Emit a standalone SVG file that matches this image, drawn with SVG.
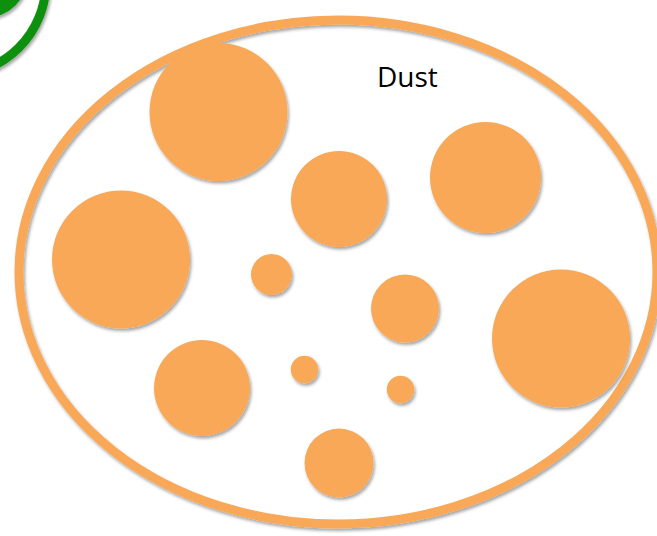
<svg xmlns="http://www.w3.org/2000/svg" width="657" height="536" viewBox="0 0 657 536">
  <defs>
    <filter id="sh" x="-20%" y="-20%" width="140%" height="140%">
      <feDropShadow dx="1.5" dy="2.5" stdDeviation="1.8" flood-color="#000" flood-opacity="0.35"/>
    </filter>
  </defs>
  <style>
    .p { fill: #f8a857; filter: url(#sh); }
    .ring { fill: none; stroke: #f8a857; stroke-width: 9; filter: url(#sh); }
    .g { fill: #0d900d; filter: url(#sh); }
    .gr { fill: none; stroke: #0d900d; stroke-width: 9; filter: url(#sh); }
    .lbl { font-family: "Open Sans", "Liberation Sans", sans-serif; font-size: 28px; fill: #000; }
  </style>
  <rect width="657" height="536" fill="#fff"/>
  <g id="green">
    <circle class="g" cx="-15" cy="-25" r="43"/>
    <circle class="gr" cx="-47" cy="-18" r="93"/>
  </g>
  <g id="dust-cloud">
    <ellipse class="ring" cx="338" cy="272" rx="319" ry="252"/>
  </g>
  <g id="label"><text class="lbl" x="377" y="87">Dust</text></g>
  <g id="particles">
    <g id="p1"><circle class="p" cx="218.5" cy="112" r="69"/></g>
    <g id="p2"><circle class="p" cx="339" cy="199" r="48"/></g>
    <g id="p3"><circle class="p" cx="485.5" cy="177.5" r="55.5"/></g>
    <g id="p4"><circle class="p" cx="121" cy="259.5" r="69"/></g>
    <g id="p5"><circle class="p" cx="271.5" cy="274.5" r="20.5"/></g>
    <g id="p6"><circle class="p" cx="405" cy="308.5" r="34"/></g>
    <g id="p7"><circle class="p" cx="304.5" cy="369.5" r="13.7"/></g>
    <g id="p8"><circle class="p" cx="400.5" cy="389.5" r="13.7"/></g>
    <g id="p9"><circle class="p" cx="561" cy="338.5" r="69"/></g>
    <g id="p10"><circle class="p" cx="202" cy="388" r="48"/></g>
    <g id="p11"><circle class="p" cx="339" cy="463" r="34.5"/></g>
  </g>
  <g id="connectors"/>
</svg>
